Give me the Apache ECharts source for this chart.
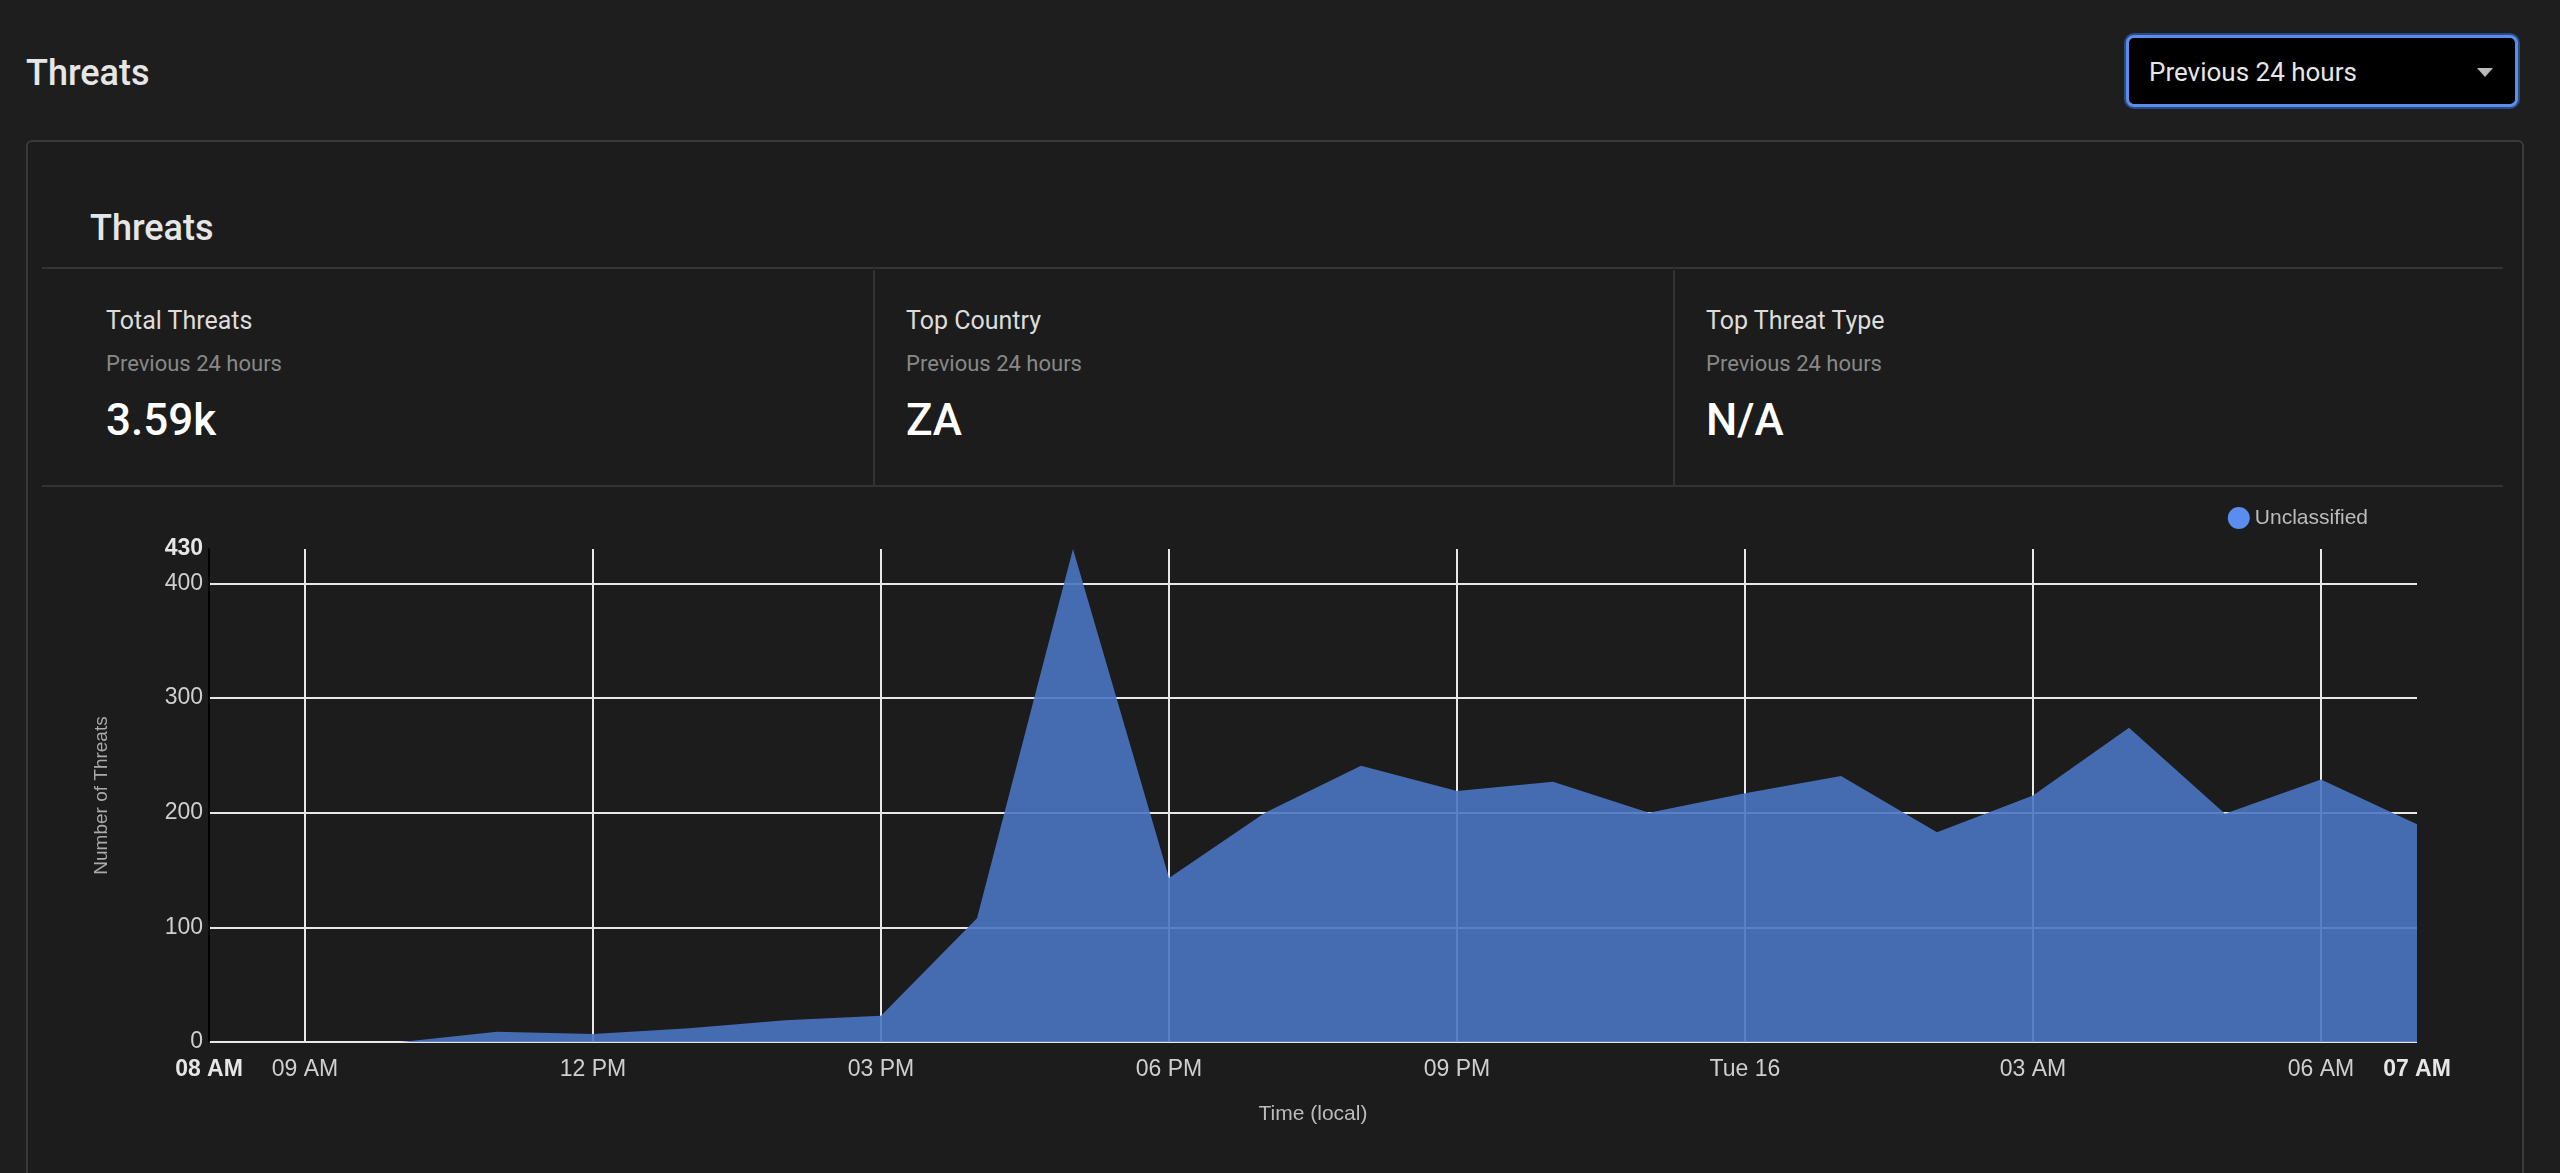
<!DOCTYPE html>
<html><head><meta charset="utf-8">
<script src="https://cdn.jsdelivr.net/npm/echarts@6/dist/echarts.min.js"></script>
<style>
  body { margin:0; background:#1e1e1e; width:2560px; height:1173px; overflow:hidden; font-family:Roboto, "Noto Sans", sans-serif; color:#e6e6e6; position:relative; }
  .h1 { position:absolute; left:26px; top:52px; font-size:36px; font-weight:500; }
  .sel { position:absolute; left:2126px; top:35px; width:392px; height:72px; box-sizing:border-box; border:3px solid #5b8def; border-radius:8px; background:#000; box-shadow:0 0 0 2px #2d4a80; font-size:26px; line-height:68px; padding-left:20px; }
  .sel:after { content:''; position:absolute; right:22px; top:30px; border:8px solid transparent; border-top:9px solid #bbb; }
  .panel { position:absolute; left:26px; top:140px; width:2494px; height:1060px; border:2px solid #3a3a3a; border-radius:6px; background:#1c1c1c; }
  .h2 { position:absolute; left:90px; top:207px; font-size:36px; font-weight:500; }
  .hr { position:absolute; left:42px; width:2461px; height:2px; background:#333; }
  .kpi { position:absolute; top:270px; width:800px; height:216px; }
  .kpi .t { position:absolute; left:0; top:36px; font-size:25px; color:#ddd; }
  .kpi .s { position:absolute; left:0; top:81px; font-size:22px; color:#888; }
  .kpi .v { position:absolute; left:0; top:124px; font-size:44px; font-weight:500; color:#fff; }
  .vsep { position:absolute; top:270px; width:2px; height:216px; background:#333; }
  #chart { position:absolute; left:42px; top:488px; width:2461px; height:680px; }
</style></head>
<body>
<div class="panel"></div>
<div class="h1">Threats</div>
<div class="sel">Previous 24 hours</div>
<div class="h2">Threats</div>
<div class="hr" style="top:267px"></div>
<div class="hr" style="top:485px"></div>
<div class="vsep" style="left:873px"></div>
<div class="vsep" style="left:1673px"></div>
<div class="kpi" style="left:106px"><div class="t">Total Threats</div><div class="s">Previous 24 hours</div><div class="v">3.59k</div></div>
<div class="kpi" style="left:906px"><div class="t">Top Country</div><div class="s">Previous 24 hours</div><div class="v">ZA</div></div>
<div class="kpi" style="left:1706px"><div class="t">Top Threat Type</div><div class="s">Previous 24 hours</div><div class="v">N/A</div></div>
<div id="chart"></div>
<script>
// hours since 08 AM
const hours  = [0,1,2,3,4,5,6,7,8,9,10,11,12,13,14,15,16,17,18,19,20,21,22,23];
const threats = [0,0,0,9,7,12,19,23,108,430,143,200,241,219,227,200,217,232,183,215,274,199,229,190];
const xTickPos = [0,1,4,7,10,13,16,19,22,23];
const xTickText = ['08 AM','09 AM','12 PM','03 PM','06 PM','09 PM','Tue 16','03 AM','06 AM','07 AM'];
const xGridPos = [1,4,7,10,13,16,19,22];
const yTickPos = [0,100,200,300,400,430];

const chart = echarts.init(document.getElementById('chart'));
const lbl = '#cfcfcf';
chart.setOption({
  animation: false,
  grid: { left:167, right:86, top:61, bottom:126 },
  legend: { right:130, top:14, icon:'circle', itemWidth:22, itemHeight:22, itemGap:4,
    textStyle:{ color:'#bbb', fontSize:21 }, data:['Unclassified'] },
  xAxis: {
    type:'value', min:0, max:23,
    name:'Time (local)', nameLocation:'middle', nameGap:62, nameTextStyle:{ color:'#bbb', fontSize:21 },
    axisLine:{ show:false }, axisTick:{ show:false, customValues:xGridPos },
    splitLine:{ show:true, lineStyle:{ color:'#e8e8e8', width:2 } },
    axisLabel:{ customValues:xTickPos, color:lbl, fontSize:23, margin:16,
      formatter: v => { const i = xTickPos.indexOf(v); const t = xTickText[i];
        return (v===0||v===23) ? '{b|'+t+'}' : t; },
      rich:{ b:{ fontWeight:'bold', fontSize:23, color:'#e6e6e6' } } }
  },
  yAxis: {
    type:'value', min:0, max:430, interval:100,
    name:'Number of Threats', nameLocation:'middle', nameGap:98, nameTextStyle:{ color:'#aaa', fontSize:19 },
    axisLine:{ show:true, lineStyle:{ color:'#000', width:2 } }, axisTick:{ show:false },
    splitLine:{ showMaxLine:false, lineStyle:{ color:'#e8e8e8', width:2 } },
    axisLabel:{ customValues:yTickPos, color:lbl, fontSize:23, margin:6,
      formatter: v => v===430 ? '{b|430}' : String(v),
      rich:{ b:{ fontWeight:'bold', fontSize:23, color:'#e6e6e6' } } }
  },
  series: [{
    name:'Unclassified', type:'line', symbol:'none',
    data: hours.map((h,i) => [h, threats[i]]),
    itemStyle:{ color:'#5b8def' },
    lineStyle:{ width:0 },
    areaStyle:{ color:'#4a74c2', opacity:0.9 }
  }]
});
</script>
</body></html>
